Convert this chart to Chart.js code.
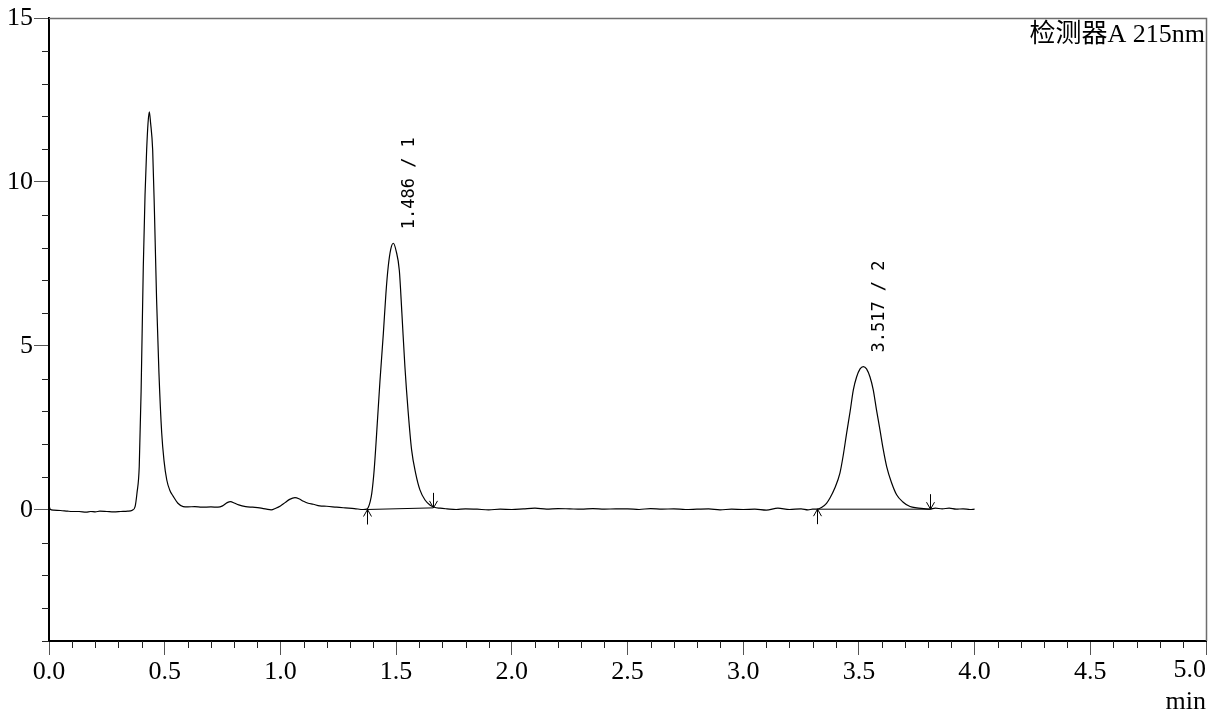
<!DOCTYPE html>
<html><head><meta charset="utf-8">
<script src="https://cdn.jsdelivr.net/npm/chart.js@4/dist/chart.umd.min.js"></script>
<style>html,body{margin:0;padding:0;background:#fff}#wrap{width:1218px;height:713px;position:relative}</style>
</head><body><div id="wrap"><canvas id="c"></canvas></div>
<script>
// ---- data ----
const timeMin = [
 0.000,0.005,0.02,0.05,0.08,0.10,0.13,0.16,0.18,0.20,0.22,0.25,0.28,0.31,0.34,0.36,
 0.372,0.380,0.390,0.398,0.4075,0.415,0.422,0.428,0.4335,0.439,0.448,0.456,0.465,0.475,0.487,0.497,0.509,0.522,0.537,0.557,0.580,
 0.60,0.63,0.66,0.70,0.73,0.75,0.77,0.785,0.80,0.82,0.85,0.88,0.91,0.94,0.96,0.98,1.00,1.02,1.04,1.063,1.08,1.10,1.12,1.142,1.17,1.20,1.243,1.28,1.32,1.358,
 1.373,1.380,1.388,1.395,1.405,1.416,1.430,1.445,1.456,1.466,1.477,1.488,1.500,1.514,1.525,1.538,1.552,1.567,1.585,1.603,1.625,1.646,1.665,1.690,
 1.72,1.76,1.80,1.85,1.90,1.95,2.00,2.05,2.10,2.15,2.20,2.25,2.30,2.35,2.40,2.45,2.50,2.55,2.60,2.65,2.70,2.75,2.80,2.85,2.90,2.95,3.00,3.05,3.10,3.15,3.20,3.25,3.28,3.30,
 3.318,3.34,3.36,3.375,3.395,3.418,3.432,3.447,3.462,3.476,3.49,3.505,3.519,3.533,3.548,3.562,3.576,3.591,3.605,3.620,3.64,3.663,3.69,3.721,3.75,3.78,3.807,
 3.83,3.86,3.89,3.92,3.95,3.98,4.00
];
const signal = [
 0.15,0.02,-0.01,-0.02,-0.04,-0.05,-0.05,-0.07,-0.05,-0.06,-0.04,-0.05,-0.06,-0.05,-0.04,-0.01,
 0.10,0.5,1.32,3.6,7.42,9.6,10.98,11.8,12.14,11.8,10.98,9.0,6.40,4.2,2.35,1.5,0.91,0.6,0.41,0.2,0.10,
 0.09,0.10,0.08,0.09,0.08,0.12,0.22,0.25,0.21,0.15,0.10,0.08,0.06,0.02,0.0,0.05,0.12,0.22,0.32,0.37,0.34,0.26,0.20,0.17,0.12,0.11,0.08,0.06,0.04,0.01,
 0.02,0.08,0.25,0.51,1.2,2.34,3.9,5.39,6.6,7.42,7.95,8.13,7.9,7.3,6.0,4.37,3.0,1.83,1.1,0.61,0.30,0.15,0.08,0.05,
 0.03,0.01,0.03,0.02,0.00,0.02,0.01,0.03,0.05,0.02,0.04,0.03,0.02,0.04,0.02,0.03,0.03,0.01,0.04,0.02,0.03,0.01,0.02,0.03,0.00,0.02,0.01,0.02,-0.01,0.05,0.01,0.03,0.00,0.02,
 0.02,0.08,0.2,0.36,0.65,1.12,1.65,2.34,3.0,3.66,4.05,4.3,4.37,4.3,4.05,3.66,3.05,2.44,1.85,1.32,0.85,0.46,0.24,0.10,0.06,0.04,0.02,
 0.05,0.03,0.05,0.02,0.03,0.01,0.02
];
const peakRT = [1.486, 3.517];
const peakNo = [1, 2];
const peakApex = [8.13, 4.37];
const peakStartT = [1.373, 3.318];
const peakStartV = [0.01, 0.02];
const peakEndT = [1.661, 3.807];
const peakEndV = [0.06, 0.02];
const xMin = 0, xMax = 5, xStep = 0.1, xMajorStep = 0.5;
const yMin = -4, yMax = 15, yStep = 1, yMajorStep = 5;
const detectorLabel = '检测器A 215nm';
const xUnitLabel = 'min';

// ---- chart ----
const isMajor = (v, s) => Math.abs(v / s - Math.round(v / s)) < 1e-6;
const tickFont = {family: "'Liberation Serif','Times New Roman',serif", size: 26};

const traceData = timeMin.map((t, i) => ({x: t, y: signal[i]}));
const baselineSets = peakRT.map((rt, i) => ({
  data: [{x: peakStartT[i], y: peakStartV[i]}, {x: peakEndT[i], y: peakEndV[i]}],
  borderColor: '#000', borderWidth: 1, pointRadius: 0, tension: 0
}));

const chromPlugin = {
  id: 'chrom',
  afterDraw(chart) {
    const {ctx, chartArea: a, scales: {x, y}} = chart;
    ctx.save();
    // top & right frame
    ctx.strokeStyle = '#6e6e6e'; ctx.lineWidth = 1.5;
    ctx.beginPath();
    ctx.moveTo(a.left, a.top + 0.5); ctx.lineTo(a.right + 0.5, a.top + 0.5); ctx.lineTo(a.right + 0.5, a.bottom);
    ctx.stroke();
    // minor ticks
    ctx.strokeStyle = '#222'; ctx.lineWidth = 1;
    ctx.beginPath();
    x.ticks.forEach(t => {
      if (!isMajor(t.value, xMajorStep)) {
        const px = Math.round(x.getPixelForValue(t.value)) + 0.5;
        ctx.moveTo(px, a.bottom); ctx.lineTo(px, a.bottom + 7);
      }
    });
    y.ticks.forEach(t => {
      if (!isMajor(t.value, yMajorStep)) {
        const py = Math.round(y.getPixelForValue(t.value)) + 0.5;
        ctx.moveTo(a.left, py); ctx.lineTo(a.left - 7, py);
      }
    });
    ctx.stroke();
    // peak start / end arrows
    ctx.strokeStyle = '#000'; ctx.lineWidth = 1;
    peakRT.forEach((rt, i) => {
      const sx = Math.round(x.getPixelForValue(peakStartT[i])) + 0.5, sy = y.getPixelForValue(peakStartV[i]);
      const ex = Math.round(x.getPixelForValue(peakEndT[i])) + 0.5, ey = y.getPixelForValue(peakEndV[i]);
      ctx.beginPath();
      ctx.moveTo(sx, sy + 15); ctx.lineTo(sx, sy);
      ctx.moveTo(sx - 4, sy + 7); ctx.lineTo(sx, sy); ctx.lineTo(sx + 4, sy + 7);
      ctx.moveTo(ex, ey - 15); ctx.lineTo(ex, ey);
      ctx.moveTo(ex - 4, ey - 7); ctx.lineTo(ex, ey); ctx.lineTo(ex + 4, ey - 7);
      ctx.stroke();
      // rotated label
      const lx = x.getPixelForValue(rt) + 17, ly = y.getPixelForValue(peakApex[i]) - 14;
      ctx.save();
      ctx.translate(lx, ly); ctx.rotate(-Math.PI / 2);
      ctx.fillStyle = '#000';
      ctx.font = "17px 'DejaVu Sans Mono', monospace";
      ctx.textAlign = 'left'; ctx.textBaseline = 'middle';
      ctx.fillText(rt.toFixed(3) + ' / ' + peakNo[i], 0, 0);
      ctx.restore();
    });
    // detector label
    ctx.fillStyle = '#000';
    ctx.font = "26px 'Liberation Serif','Noto Sans CJK SC',serif";
    ctx.textAlign = 'right'; ctx.textBaseline = 'middle';
    ctx.fillText(detectorLabel, a.right - 1, a.top + 17);
    // last x label right-aligned, and unit
    ctx.font = "26px 'Liberation Serif',serif";
    ctx.textAlign = 'right'; ctx.textBaseline = 'top';
    ctx.fillText(xMax.toFixed(1), a.right, a.bottom + 16);
    ctx.fillText(xUnitLabel, a.right, a.bottom + 48);
    ctx.restore();
  }
};

new Chart(document.getElementById('c'), {
  type: 'line',
  data: {
    datasets: [
      {data: traceData, borderColor: '#000', borderWidth: 1.2, pointRadius: 0, cubicInterpolationMode: 'monotone'},
      ...baselineSets
    ]
  },
  options: {
    responsive: true, maintainAspectRatio: false, animation: false,
    layout: {padding: {top: 18, right: 12, left: 0, bottom: 0}},
    plugins: {legend: {display: false}, tooltip: {enabled: false}},
    scales: {
      x: {
        type: 'linear', min: xMin, max: xMax,
        afterFit: s => { s.height = 72; },
        border: {display: true, color: '#000', width: 2},
        grid: {display: true, drawOnChartArea: false, tickLength: 14, tickWidth: 1,
          tickColor: c => isMajor(c.tick.value, xMajorStep) ? '#555' : 'rgba(0,0,0,0)'},
        ticks: {stepSize: xStep, autoSkip: false, maxRotation: 0, padding: 2, color: '#000', font: tickFont,
          callback: v => (isMajor(v, xMajorStep) && v < xMax - 1e-6) ? v.toFixed(1) : ''}
      },
      y: {
        type: 'linear', min: yMin, max: yMax,
        afterFit: s => { s.width = 49; },
        border: {display: true, color: '#000', width: 2},
        grid: {display: true, drawOnChartArea: false, tickLength: 15, tickWidth: 1,
          tickColor: c => isMajor(c.tick.value, yMajorStep) ? '#555' : 'rgba(0,0,0,0)'},
        ticks: {stepSize: yStep, autoSkip: false, padding: 1, color: '#000', font: tickFont,
          callback: v => isMajor(v, yMajorStep) ? String(v) : ''}
      }
    }
  },
  plugins: [chromPlugin]
});
</script>
</body></html>
